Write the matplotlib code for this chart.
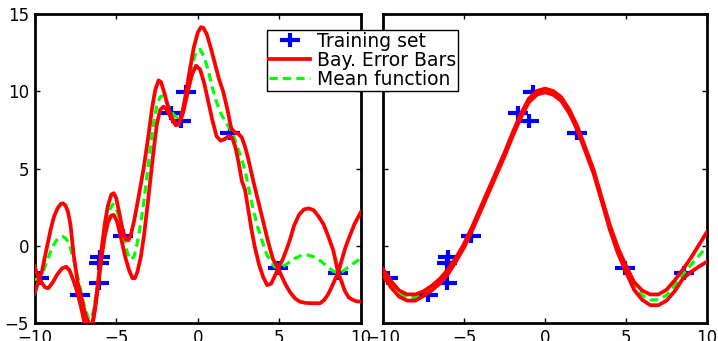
import matplotlib
matplotlib.use("Agg")
import matplotlib.pyplot as plt
from matplotlib.path import Path
import numpy as np

# training set (same points in both panels)
train_x = [-9.7, -7.2, -6.0, -6.05, -6.05, -4.55, -1.65, -1.0, -0.75, 2.0, 4.93, 8.6]
train_y = [-2.1, -3.2, -0.7, -1.1, -2.4, 0.6, 8.6, 8.1, 9.95, 7.28, -1.46, -1.76]

# left panel: short length scale, error bars and mean
left_up_x = [-10, -9.85, -9.7, -9.55, -9.4, -9.2, -9.0, -8.8, -8.6, -8.4, -8.25, -8.1, -7.95,
             -7.8, -7.6, -7.35, -7.1, -6.85, -6.6, -6.45, -6.3, -6.1, -5.9, -5.7, -5.5, -5.3,
             -5.15, -5.0, -4.8, -4.6, -4.4, -4.25, -4.1, -3.9, -3.6, -3.3, -3.0, -2.8, -2.6,
             -2.4, -2.25, -2.05, -1.8, -1.55, -1.3, -1.15, -0.95, -0.75, -0.5, -0.25, 0.0, 0.2,
             0.35, 0.55, 0.8, 1.05, 1.3, 1.55, 1.8, 2.05, 2.3, 2.5, 2.7, 2.9, 3.1, 3.4, 3.7,
             4.0, 4.3, 4.6, 4.93, 5.2, 5.45, 5.65, 5.9, 6.2, 6.5, 6.8, 7.1, 7.4, 7.7, 8.0, 8.3,
             8.45, 8.6, 8.8, 9.05, 9.3, 9.6, 10.0]
left_up_y = [-1.3, -1.8, -2.1, -1.7, -0.9, 0.1, 1.1, 1.9, 2.4, 2.7, 2.75, 2.6, 2.2,
             1.4, -0.6, -2.4, -3.5, -4.6, -5.1, -5.1, -4.0, -2.3, -0.3, 1.4, 2.6, 3.3,
             3.4, 3.1, 2.1, 1.0, 0.4, 0.35, 0.7, 1.6, 3.3, 5.1, 7.3, 8.9, 10.1,
             10.7, 10.6, 9.9, 8.9, 8.2, 7.9, 7.9, 8.6, 9.7, 11.3, 12.8, 13.8, 14.15,
             14.1, 13.7, 12.8, 11.8, 10.8, 10.0, 8.9, 7.6, 7.3, 7.25, 7.0, 6.4, 5.6, 4.2, 2.9,
             1.6, 0.3, -0.85, -1.46, -0.9, -0.2, 0.4, 1.3, 2.0, 2.35, 2.42, 2.3, 1.9, 1.4, 0.6, -0.3,
             -1.0, -1.74, -1.0, -0.1, 0.6, 1.4, 2.2]

left_lo_x = [-10, -9.85, -9.7, -9.55, -9.35, -9.15, -8.9, -8.6, -8.3, -8.05, -7.85, -7.6, -7.35,
             -7.1, -6.9, -6.7, -6.5, -6.3, -6.1, -5.9, -5.7, -5.5, -5.3, -5.15, -4.95, -4.7,
             -4.45, -4.2, -4.0, -3.85, -3.7, -3.5, -3.3, -3.1, -2.9, -2.7, -2.5, -2.3, -2.1,
             -1.9, -1.6, -1.35, -1.15, -0.9, -0.6, -0.35, -0.1, 0.15, 0.4, 0.65, 0.9, 1.15,
             1.4, 1.65, 1.9, 2.1, 2.3, 2.5, 2.7, 2.9, 3.1, 3.3, 3.5, 3.75, 4.0, 4.25, 4.5,
             4.7, 4.93, 5.15, 5.4, 5.65, 5.95, 6.25, 6.6, 7.0, 7.5, 7.75, 7.95, 8.15, 8.4,
             8.6, 8.8, 9.0, 9.25, 9.5, 9.75, 10.0]
left_lo_y = [-3.1, -2.6, -2.1, -2.4, -2.7, -2.75, -2.4, -1.85, -1.45, -1.36, -1.6, -2.3, -3.1,
             -4.2, -5.2, -5.6, -5.3, -4.2, -2.6, -0.8, 0.6, 1.5, 1.95, 2.0, 1.6, 0.5,
             -0.7, -1.6, -2.1, -2.1, -1.7, -0.8, 0.6, 2.4, 4.3, 6.2, 7.9, 8.8, 9.0,
             8.8, 8.2, 7.8, 7.85, 8.6, 10.0, 11.1, 11.65, 11.4, 10.5, 9.3, 8.1, 7.1,
             6.8, 6.9, 7.1, 7.0, 6.4, 5.4, 4.2, 3.6, 2.3, 1.0, -0.1, -1.2, -2.0, -2.55, -2.45,
             -2.0, -1.46, -2.0, -2.55, -3.0, -3.4, -3.62, -3.7, -3.72, -3.72, -3.5, -3.2, -2.8, -2.2,
             -1.74, -2.3, -2.9, -3.35, -3.5, -3.6, -3.62]

left_mean_x = [-10, -9.7, -9.45, -9.2, -8.95, -8.7, -8.45, -8.25, -8.05, -7.85, -7.65, -7.4,
               -7.15, -6.9, -6.7, -6.55, -6.4, -6.2, -6.0, -5.8, -5.6, -5.4, -5.2, -5.0, -4.8,
               -4.55, -4.3, -4.1, -3.9, -3.7, -3.5, -3.3, -3.1, -2.9, -2.7, -2.5, -2.3, -2.1,
               -1.9, -1.65, -1.4, -1.2, -1.0, -0.8, -0.55, -0.3, -0.05, 0.15, 0.4, 0.65, 0.9,
               1.15, 1.4, 1.7, 1.97, 2.2, 2.45, 2.7, 2.95, 3.2, 3.45, 3.7, 3.95, 4.2, 4.45,
               4.7, 4.93, 5.2, 5.5, 5.9, 6.3, 6.75, 7.2, 7.6, 8.0, 8.3, 8.6, 8.9, 9.2, 9.6, 10.0]
left_mean_y = [-2.2, -2.1, -1.6, -0.9, -0.2, 0.3, 0.55, 0.6, 0.45, 0.0, -0.7, -1.8,
               -3.0, -4.1, -4.7, -4.75, -4.3, -3.0, -1.5, -0.1, 1.3, 2.3, 2.7, 2.45, 1.7,
               0.5, -0.5, -0.9, -0.7, 0.2, 1.4, 2.9, 4.6, 6.4, 8.0, 9.1, 9.65, 9.7,
               9.3, 8.7, 8.4, 8.3, 8.5, 9.2, 10.6, 11.9, 12.65, 12.7, 12.2, 11.3, 10.2,
               9.3, 8.6, 8.0, 7.6, 7.1, 6.3, 5.6, 4.6, 3.3, 2.1, 1.1, 0.3, -0.5, -1.0,
               -1.35, -1.46, -1.35, -1.15, -0.85, -0.65, -0.6, -0.75, -1.05, -1.4, -1.65, -1.76,
               -1.65, -1.4, -1.1, -0.8]

# right panel: long length scale
right_x = [-10, -9.5, -9, -8.5, -8, -7.5, -7, -6.5, -6, -5.5, -5, -4.5, -4, -3.5, -3, -2.5,
           -2, -1.5, -1, -0.5, 0, 0.5, 1, 1.5, 2, 2.5, 3, 3.5, 4, 4.5, 5, 5.5, 6, 6.5, 7,
           7.5, 8, 8.5, 9, 9.5, 10]
right_mean = [-1.7, -2.5, -3.1, -3.35, -3.35, -3.1, -2.75, -2.3, -1.7, -0.9, 0.0, 1.1, 2.3,
              3.5, 4.7, 5.9, 7.2, 8.4, 9.4, 9.9, 10.05, 9.9, 9.5, 8.7, 7.6, 6.2, 4.8, 3.0,
              1.2, -0.3, -1.5, -2.6, -3.2, -3.5, -3.5, -3.2, -2.6, -1.85, -1.25, -0.65, -0.06]
right_up = [-1.5, -2.3, -2.9, -3.15, -3.15, -2.95, -2.6, -2.15, -1.55, -0.78, 0.12, 1.22,
            2.42, 3.62, 4.82, 6.02, 7.32, 8.52, 9.52, 10.02, 10.17, 10.02, 9.62, 8.82, 7.72,
            6.32, 4.92, 3.12, 1.35, -0.12, -1.3, -2.35, -2.9, -3.15, -3.15, -2.85, -2.25,
            -1.55, -0.8, 0.05, 0.9]
right_lo = [-1.9, -2.7, -3.3, -3.55, -3.55, -3.25, -2.9, -2.45, -1.85, -1.02, -0.12, 0.98,
            2.18, 3.38, 4.58, 5.78, 7.08, 8.28, 9.28, 9.78, 9.93, 9.78, 9.38, 8.58, 7.48,
            6.08, 4.68, 2.88, 1.05, -0.48, -1.7, -2.85, -3.5, -3.85, -3.85, -3.55, -2.95,
            -2.15, -1.7, -1.35, -1.03]

xticks = [-10, -5, 0, 5, 10]
yticks = [-5, 0, 5, 10, 15]

# wide plus sign used for the training points
plus = Path([(-1, 0), (1, 0), (0, -0.75), (0, 0.75)],
            [Path.MOVETO, Path.LINETO, Path.MOVETO, Path.LINETO])

plt.rcParams['font.family'] = ['DejaVu Sans']
fig = plt.figure(figsize=(7.18, 3.41), dpi=100)
ax1 = fig.add_axes([34.5/718, 1 - 323/341, 326.5/718, 309/341])
ax2 = fig.add_axes([383/718, 1 - 323/341, 324/718, 309/341])


def draw_panel(ax, ux, uy, lx, ly, mx, my):
    h_train, = ax.plot(train_x, train_y, linestyle='none', marker=plus, ms=14, mew=3,
                       color=(0, 0, 1), zorder=2)
    h_mean, = ax.plot(mx, my, color=(0, 1, 0), lw=2.3, linestyle=(0, (2.6, 1.6)), zorder=3)
    h_err, = ax.plot(ux, uy, color=(1, 0, 0), lw=2.7, solid_joinstyle='round', zorder=4)
    ax.plot(lx, ly, color=(1, 0, 0), lw=2.7, solid_joinstyle='round', zorder=4)
    ax.set_xlim(-10, 10)
    ax.set_ylim(-5, 15)
    ax.set_xticks(xticks)
    ax.set_yticks(yticks)
    ax.tick_params(direction='in', top=True, right=True, length=3.5, width=1,
                   labelsize=12, pad=4)
    for s in ax.spines.values():
        s.set_linewidth(2)
    return h_train, h_err, h_mean


handles = draw_panel(ax1, left_up_x, left_up_y, left_lo_x, left_lo_y, left_mean_x, left_mean_y)
draw_panel(ax2, right_x, right_up, right_x, right_lo, right_x, right_mean)
ax2.set_yticklabels([])

leg = fig.legend(handles, ['Training set', 'Bay. Error Bars', 'Mean function'],
                 loc='upper left', bbox_to_anchor=(267/718, 1 - 30/341),
                 fontsize=13.5, frameon=True, fancybox=False, framealpha=1,
                 edgecolor='black', borderpad=0.1, labelspacing=0.0,
                 handlelength=2.2, handletextpad=0.35, borderaxespad=0)
leg.get_frame().set_linewidth(1)
leg.set_zorder(10)

fig.savefig('out.png', dpi=100)
